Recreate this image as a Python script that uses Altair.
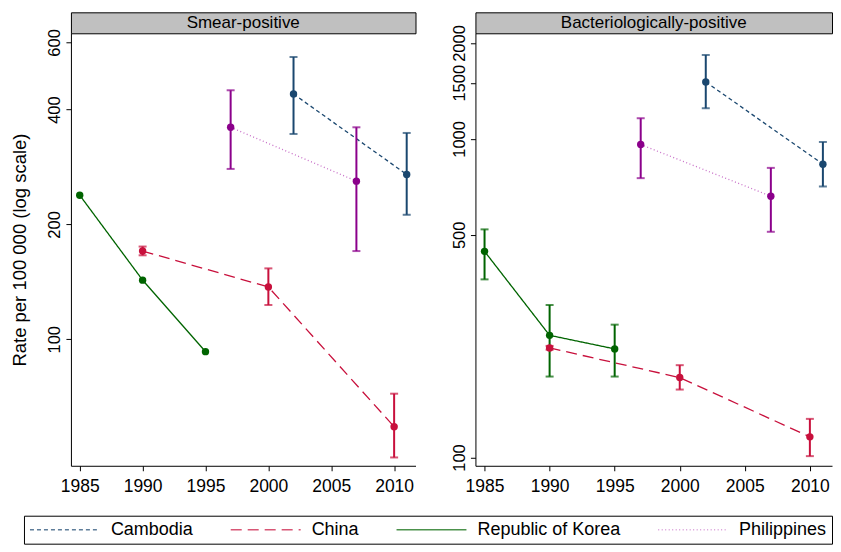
import altair as alt
import pandas as pd

FONT = "Liberation Sans, Arial, Helvetica, sans-serif"

countries = ["Cambodia", "China", "Republic of Korea", "Philippines"]
line_colors = ["#1a476f", "#c8103c", "#006400", "#c870c8"]
marker_colors = ["#1a476f", "#c8103c", "#006400", "#8b008b"]
dashes = [[4, 3], [11, 6], [1, 0], [1, 2.5]]

# Smear-positive panel
sm_country = ["Republic of Korea", "Republic of Korea", "Republic of Korea",
              "China", "China", "China",
              "Philippines", "Philippines",
              "Cambodia", "Cambodia"]
sm_year = [1985, 1990, 1995, 1990, 2000, 2010, 1997, 2007, 2002, 2011]
sm_rate = [238.6, 142.9, 92.8, 170.3, 137.1, 59.0, 359.5, 259.7, 439.5, 270.4]
sm_lo = [None, None, None, 166.0, 123.0, 49.0, 279.6, 170.3, 345.3, 212.0]
sm_hi = [None, None, None, 175.0, 153.4, 72.0, 449.5, 359.5, 549.4, 347.4]

# Bacteriologically-positive panel
bp_country = ["Republic of Korea", "Republic of Korea", "Republic of Korea",
              "China", "China", "China",
              "Philippines", "Philippines",
              "Cambodia", "Cambodia"]
bp_year = [1985, 1990, 1995, 1990, 2000, 2010, 1997, 2007, 2002, 2011]
bp_rate = [443.6, 241.8, 219.2, 220.7, 178.2, 116.1, 960.0, 661.0, 1509.0, 833.0]
bp_lo = [362.3, 179.5, 179.5, 218.0, 163.4, 101.0, 753.0, 511.0, 1248.0, 709.0]
bp_hi = [520.0, 301.0, 261.2, 224.0, 194.9, 132.2, 1161.0, 811.0, 1834.0, 978.0]

x_ticks = [1985, 1990, 1995, 2000, 2005, 2010]
sm_ticks = [100, 200, 400, 600]
bp_ticks = [100, 500, 1000, 1500, 2000]

mcolor = dict(zip(countries, marker_colors))


def make_df(c, yr, r, lo, hi):
    df = pd.DataFrame({"country": c, "year": yr, "rate": r, "lo": lo, "hi": hi})
    df["mcolor"] = df["country"].map(mcolor)
    return df


legend = alt.Legend(
    title=None, orient="none", legendX=-47, legendY=504, direction="horizontal",
    columns=4, symbolType="stroke", symbolSize=4900, symbolStrokeWidth=1.6,
    clipHeight=18, labelFont=FONT, labelFontSize=18, labelColor="black",
    labelOffset=10, columnPadding=36, strokeColor="black", padding=5,
    symbolOffset=0,
)


def panel(df, title, ydomain, yticks, width, ytitle):
    xenc = alt.X("year:Q",
                 scale=alt.Scale(domain=[1984.3, 2011.7], nice=False, zero=False),
                 axis=alt.Axis(values=x_ticks, format="d", title=None,
                               labelPadding=7, labelFontSize=17.5))
    yaxis_kw = dict(values=yticks, format="d", labelAngle=270, labelFontSize=16.5,
                    labelAlign="center", labelBaseline="bottom", labelPadding=3)
    if ytitle:
        yaxis = alt.Axis(title=ytitle, titlePadding=17, **yaxis_kw)
    else:
        yaxis = alt.Axis(title=None, **yaxis_kw)
    yscale = alt.Scale(type="log", domain=ydomain, nice=False)
    base = alt.Chart(df)
    lines = base.mark_line(strokeWidth=1.3).encode(
        x=xenc,
        y=alt.Y("rate:Q", scale=yscale, axis=yaxis),
        color=alt.Color("country:N", scale=alt.Scale(domain=countries, range=line_colors),
                        legend=legend),
        strokeDash=alt.StrokeDash("country:N", scale=alt.Scale(domain=countries, range=dashes),
                                  legend=legend),
        order="year:Q",
    )
    ci = base.transform_filter("isValid(datum.lo)")
    rules = ci.mark_rule(strokeWidth=2).encode(
        x=xenc, y=alt.Y("lo:Q", scale=yscale), y2="hi:Q",
        color=alt.Color("mcolor:N", scale=None),
    )
    cap_lo = ci.mark_tick(orient="horizontal", size=8, thickness=2).encode(
        x=xenc, y=alt.Y("lo:Q", scale=yscale), color=alt.Color("mcolor:N", scale=None))
    cap_hi = ci.mark_tick(orient="horizontal", size=8, thickness=2).encode(
        x=xenc, y=alt.Y("hi:Q", scale=yscale), color=alt.Color("mcolor:N", scale=None))
    points = base.mark_circle(size=55, opacity=1).encode(
        x=xenc, y=alt.Y("rate:Q", scale=yscale),
        color=alt.Color("mcolor:N", scale=None),
    )
    plot = alt.layer(lines, rules, cap_lo, cap_hi, points).properties(
        width=width, height=433,
        view=alt.ViewBackground(stroke="transparent"),
    )
    header = alt.Chart(pd.DataFrame({"t": [title]})).mark_text(
        font=FONT, fontSize=17, color="black"
    ).encode(text="t:N").properties(
        width=width, height=21,
        view=alt.ViewBackground(fill="#c0c0c0", stroke="black", strokeWidth=1),
    )
    return alt.vconcat(header, plot, spacing=0, bounds="flush")


left = panel(make_df(sm_country, sm_year, sm_rate, sm_lo, sm_hi),
             "Smear-positive", [46.6, 634], sm_ticks, 345, "Rate per 100 000 (log scale)")
right = panel(make_df(bp_country, bp_year, bp_rate, bp_lo, bp_hi),
              "Bacteriologically-positive", [94.2, 2145], bp_ticks, 357, None)

chart = alt.hconcat(left, right, spacing=34).properties(
    padding={"left": 2, "top": 3, "right": 0, "bottom": 0},
    background="white",
).configure_view(
    stroke="transparent"
).configure_axis(
    grid=False, domainColor="black", tickColor="black", labelColor="black",
    titleColor="black", domainWidth=1, tickWidth=1, tickSize=5,
    labelFont=FONT, titleFont=FONT, titleFontSize=18.5,
    titleFontWeight="normal",
)

chart.save("out.html", embed_options={"renderer": "svg", "actions": False})
